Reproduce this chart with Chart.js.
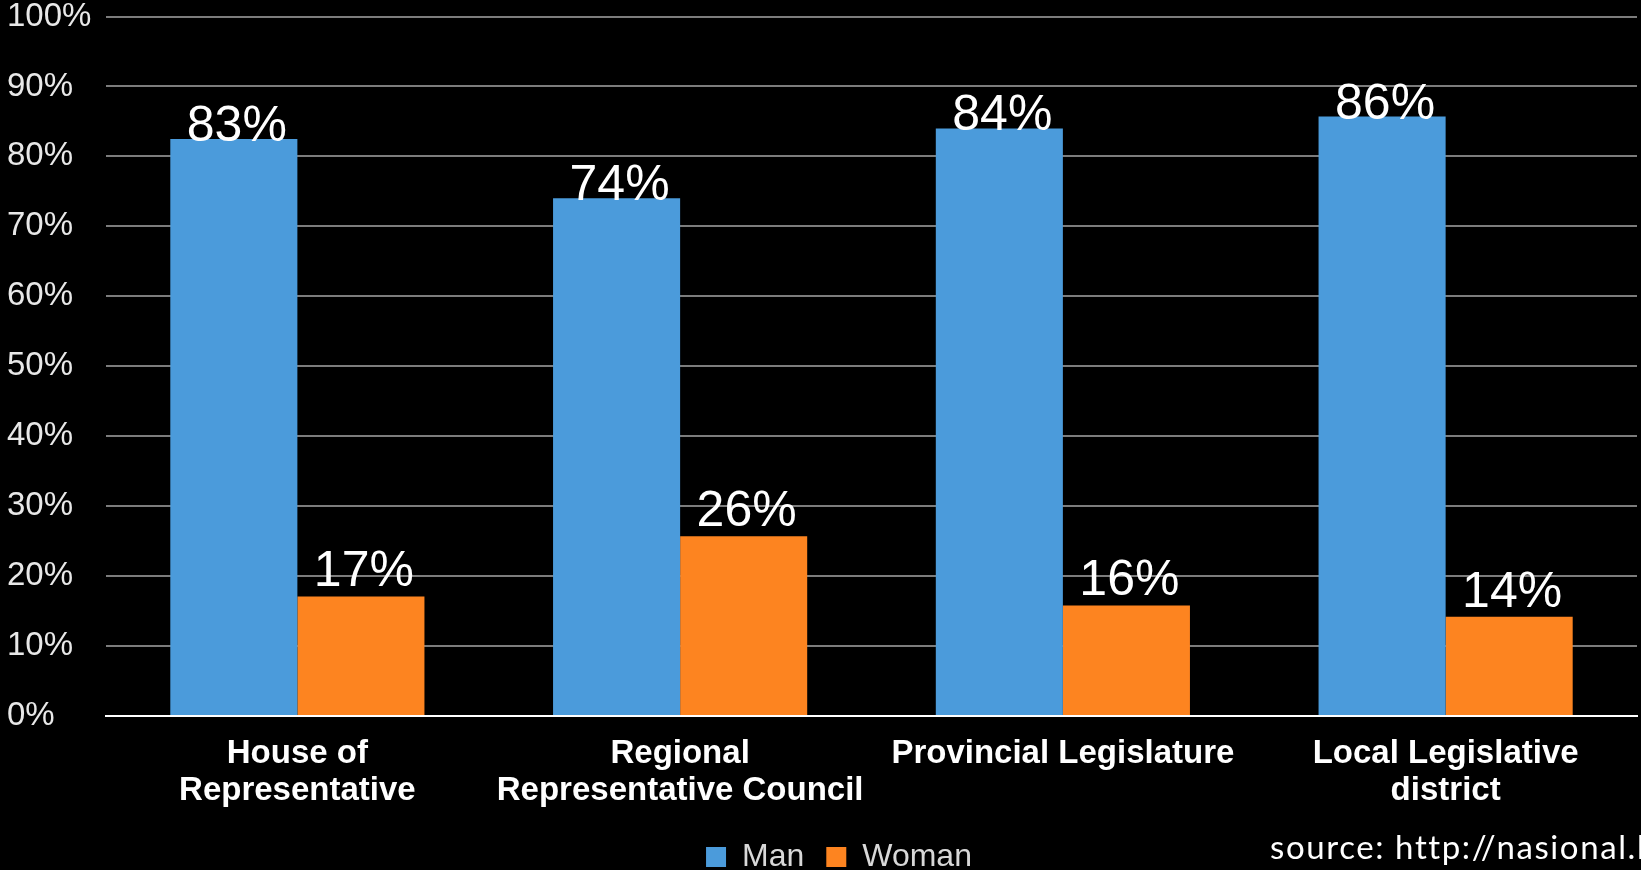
<!DOCTYPE html>
<html>
<head>
<meta charset="utf-8">
<script src="https://cdn.jsdelivr.net/npm/chart.js@4"></script>
<style>
  html, body { margin: 0; padding: 0; background: #000; overflow: hidden; }
  #wrap { position: relative; width: 1641px; height: 883px; }
  #source { position: absolute; left: 1270px; top: 826px; color: #fff; font: 33px Lato, sans-serif; letter-spacing: 1.6px; white-space: nowrap; }
</style>
</head>
<body>
<div id="wrap">
  <canvas id="chart"></canvas>
  <div id="source">source: http://nasional.k</div>
</div>
<script>
// categories (x axis), two lines where the picture wraps them
var categories = [
    ['House of', 'Representative'],
    ['Regional', 'Representative Council'],
    'Provincial Legislature',
    ['Local Legislative', 'district']
];
// share of seats
var manValues = [82.5, 74.0, 84.0, 85.7];
var womanValues = [17.1, 25.7, 15.8, 14.2];
var yTicks = [0, 10, 20, 30, 40, 50, 60, 70, 80, 90, 100];

// lift of the value text above each series' bar top
var labelLift = [-2, 10];

const valueLabels = {
    id: 'valueLabels',
    afterDatasetsDraw(chart) {
        const ctx = chart.ctx;
        ctx.save();
        ctx.font = '50px "Liberation Sans"';
        ctx.fillStyle = '#fff';
        ctx.textAlign = 'center';
        ctx.textBaseline = 'alphabetic';
        chart.data.datasets.forEach((ds, i) => {
            chart.getDatasetMeta(i).data.forEach((bar, j) => {
                ctx.fillText(Math.round(ds.data[j]) + '%', bar.x + 3, bar.y - labelLift[i]);
            });
        });
        ctx.restore();
    }
};

// legend in the picture sits a bit right of the canvas centre
const nudgeLegend = {
    id: 'nudgeLegend',
    afterLayout(chart) {
        if (chart.legend) {
            chart.legend.left += 17;
            chart.legend.right += 17;
        }
    }
};

new Chart(document.getElementById('chart'), {
    type: 'bar',
    data: {
        labels: categories,
        datasets: [{
            label: 'Man',
            data: manValues,
            backgroundColor: '#4b9bdb'
        }, {
            label: 'Woman',
            data: womanValues,
            backgroundColor: '#fd8420'
        }]
    },
    options: {
        responsive: true,
        maintainAspectRatio: false,
        animation: false,
        layout: { padding: { left: 7, top: 0, right: 4, bottom: 0 } },
        datasets: {
            bar: { categoryPercentage: 0.664, barPercentage: 1.0 }
        },
        plugins: {
            legend: {
                position: 'bottom',
                labels: {
                    color: '#d8d8d8',
                    font: { family: 'Liberation Sans', size: 32 },
                    boxWidth: 20,
                    boxHeight: 20,
                    padding: 22
                }
            },
            tooltip: { enabled: false }
        },
        scales: {
            x: {
                grid: { display: false },
                border: { color: '#fff', width: 2 },
                ticks: {
                    color: '#fff',
                    font: { family: 'Liberation Sans', size: 33, weight: 'bold', lineHeight: 1.12 },
                    maxRotation: 0,
                    autoSkip: false,
                    padding: 11
                },
                afterFit(scale) { scale.height = 103; }
            },
            y: {
                min: 0,
                max: 100,
                afterBuildTicks(scale) { scale.ticks = yTicks.map(v => ({ value: v })); },
                grid: {
                    color: ctx => ctx.tick && ctx.tick.value === 0 ? '#fff' : '#7c7c7c',
                    lineWidth: 2,
                    drawTicks: false
                },
                border: { display: false },
                ticks: {
                    color: '#e8e8e8',
                    font: { family: 'Liberation Sans', size: 33, lineHeight: 1 },
                    crossAlign: 'far',
                    padding: 0,
                    callback: v => v + '%'
                },
                afterFit(scale) { scale.width = 99; }
            }
        }
    },
    plugins: [valueLabels, nudgeLegend]
});
</script>
</body>
</html>
